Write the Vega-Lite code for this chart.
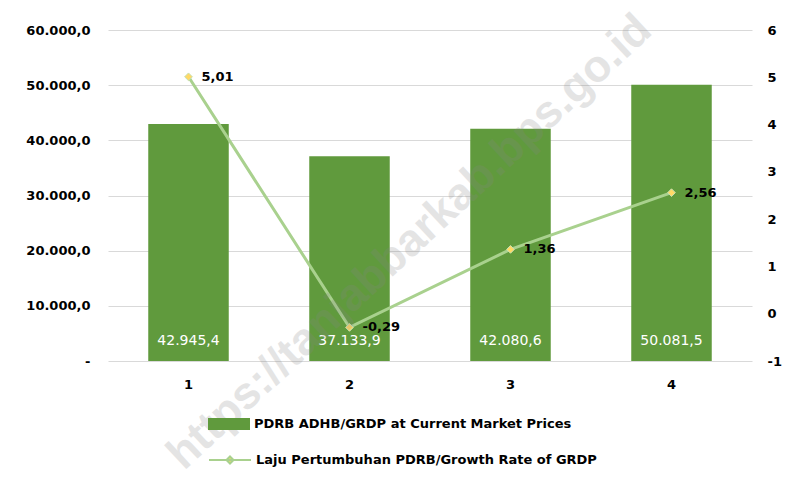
{
  "$schema": "https://vega.github.io/schema/vega-lite/v6.json",
  "width": 644,
  "height": 331,
  "autosize": "none",
  "padding": {"left": 108, "top": 30, "right": 36, "bottom": 121},
  "background": "white",
  "config": {
    "view": {"stroke": null},
    "locale": {"number": {"decimal": ",", "thousands": ".", "grouping": [3], "currency": ["", ""], "minus": "-"}}
  },
  "data": {
    "values": [
      {"q": "1", "pdrb": 42945.4, "growth": 5.01},
      {"q": "2", "pdrb": 37133.9, "growth": -0.29},
      {"q": "3", "pdrb": 42080.6, "growth": 1.36},
      {"q": "4", "pdrb": 50081.5, "growth": 2.56}
    ]
  },
  "layer": [
    {
      "encoding": {
        "x": {
          "field": "q", "type": "nominal",
          "scale": {"paddingInner": 0.5, "paddingOuter": 0.25},
          "axis": {"title": null, "labelAngle": 0, "domain": false, "ticks": false, "labelPadding": 17,
                   "labelFont": "DejaVu Sans", "labelFontWeight": "bold", "labelFontSize": 13, "labelColor": "black"}
        },
        "y": {
          "field": "pdrb", "type": "quantitative",
          "scale": {"domain": [0, 60000]},
          "axis": {"orient": "left", "title": null, "values": [0, 10000, 20000, 30000, 40000, 50000, 60000],
                   "format": ",.1f", "labelExpr": "datum.value == 0 ? '-' : datum.label",
                   "domain": false, "ticks": false, "grid": true, "gridColor": "#d9d9d9", "gridWidth": 1,
                   "labelFont": "DejaVu Sans", "labelFontWeight": "bold", "labelFontSize": 13, "labelColor": "black",
                   "labelPadding": 18}
        }
      },
      "layer": [
        {
          "mark": {"type": "bar"},
          "encoding": {
            "fill": {
              "datum": "PDRB ADHB/GRDP at Current Market Prices", "type": "nominal",
              "scale": {"range": ["#609a3d"]},
              "legend": {"orient": "none", "legendX": 100, "legendY": 373, "title": null,
                         "symbolType": "M-1,-0.2857H1V0.2857H-1Z", "symbolSize": 1764, "symbolStrokeWidth": 0,
                         "labelFont": "DejaVu Sans", "labelFontWeight": "bold", "labelFontSize": 13,
                         "labelColor": "black", "labelOffset": 4, "labelLimit": 600}
            }
          }
        },
        {
          "mark": {"type": "text", "color": "white", "font": "DejaVu Sans", "fontSize": 14, "dy": -20, "baseline": "middle"},
          "encoding": {
            "y": {"datum": 0},
            "text": {"field": "pdrb", "type": "quantitative", "format": ",.1f"}
          }
        }
      ]
    },
    {
      "encoding": {
        "x": {"field": "q", "type": "nominal", "scale": {"paddingInner": 0.5, "paddingOuter": 0.25}, "axis": null},
        "y": {
          "field": "growth", "type": "quantitative",
          "scale": {"domain": [-1, 6]},
          "axis": {"orient": "right", "title": null, "values": [-1, 0, 1, 2, 3, 4, 5, 6], "format": "d",
                   "domain": false, "ticks": false, "grid": false,
                   "labelFont": "DejaVu Sans", "labelFontWeight": "bold", "labelFontSize": 13, "labelColor": "black",
                   "labelPadding": 15}
        }
      },
      "layer": [
        {
          "mark": {"type": "line", "strokeWidth": 3},
          "encoding": {
            "stroke": {
              "datum": "Laju Pertumbuhan PDRB/Growth Rate of GRDP", "type": "nominal",
              "scale": {"range": ["#a9d18e"]},
              "legend": {"orient": "none", "legendX": 100, "legendY": 408, "title": null,
                         "symbolType": "M-1,0H1M0,-0.17L0.17,0L0,0.17L-0.17,0Z", "symbolSize": 1764,
                         "symbolStrokeWidth": 2, "symbolFillColor": "#ffd966",
                         "labelFont": "DejaVu Sans", "labelFontWeight": "bold", "labelFontSize": 13,
                         "labelColor": "black", "labelOffset": 4, "labelLimit": 600}
            }
          }
        },
        {
          "mark": {"type": "point", "shape": "diamond", "filled": true, "fill": "#ffd966", "stroke": "#c5e0b4", "strokeWidth": 1, "size": 60, "opacity": 1}
        },
        {
          "mark": {"type": "text", "align": "left", "baseline": "middle", "dx": 13, "font": "DejaVu Sans", "fontWeight": "bold", "fontSize": 13, "color": "black"},
          "encoding": {"text": {"field": "growth", "type": "quantitative", "format": ".2f"}}
        }
      ]
    },
    {
      "data": {"values": [{"wm": "https://tanjabbarkab.bps.go.id", "wx": 0.468, "wy": 0.36}]},
      "mark": {"type": "text", "font": "Liberation Sans", "fontWeight": "bold", "fontSize": 45, "angle": 317,
               "color": "#888888", "opacity": 0.22, "align": "center", "baseline": "middle"},
      "encoding": {
        "x": {"field": "wx", "type": "quantitative", "scale": {"domain": [0, 1]}, "axis": null},
        "y": {"field": "wy", "type": "quantitative", "scale": {"domain": [0, 1]}, "axis": null},
        "text": {"field": "wm", "type": "nominal"}
      }
    }
  ],
  "resolve": {"scale": {"x": "independent", "y": "independent"}}
}
